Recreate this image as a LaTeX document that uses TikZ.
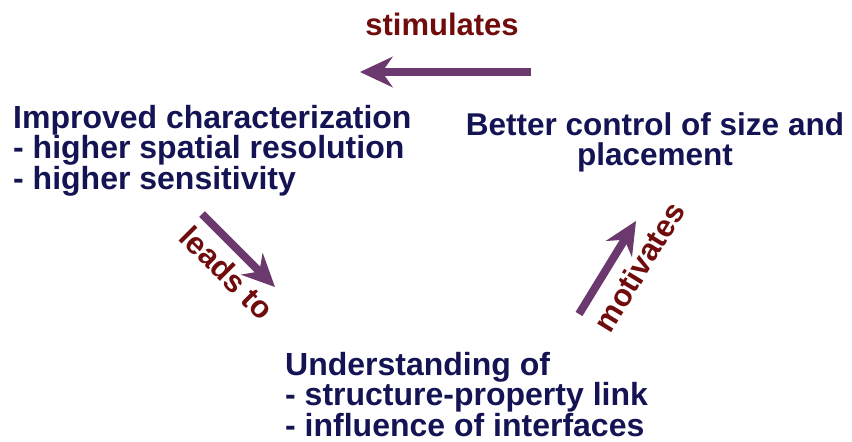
\documentclass[tikz,border=0pt]{standalone}
\usepackage{fontspec}
\setmainfont{Liberation Sans}
\usetikzlibrary{arrows.meta}
\definecolor{navytext}{RGB}{20,20,85}
\definecolor{arrowpurple}{RGB}{107,57,109}
\definecolor{labelred}{RGB}{112,12,12}
\tikzset{
  block/.style={inner sep=0pt, text=navytext, font=\bfseries\fontsize{32}{30.5}\selectfont},
  lbl/.style={inner sep=0pt, text=labelred, font=\bfseries\fontsize{31}{31}\selectfont},
  bigarrow/.style={draw=arrowpurple, line width=8pt,
    -{Stealth[length=33pt,width=31pt,inset=11pt,line width=0pt]}}
}
\begin{document}
\begin{tikzpicture}[x=1pt,y=-1pt]
\useasboundingbox (0,0) rectangle (852,442);
\fill[white] (0,0) rectangle (852,442);

\node[block, anchor=north west, align=left] (char) at (13,105)
  {Improved characterization\\- higher spatial resolution\\- higher sensitivity};
\node[block, anchor=north, align=center, font=\bfseries\fontsize{31.5}{30}\selectfont] (ctrl) at (655,112)
  {Better control of size and\\placement};
\node[block, anchor=north west, align=left] (under) at (285,352)
  {Understanding of\\- structure-property link\\- influence of interfaces};

\coordinate (stimS) at (531,72);
\coordinate (stimE) at (360,72);
\coordinate (leadS) at (202,214);
\coordinate (leadE) at (275,287);
\coordinate (motS) at (579,314);
\coordinate (motE) at (636,221);

\draw[bigarrow] (stimS) -- (stimE);
\draw[bigarrow] (leadS) -- (leadE);
\draw[bigarrow] (motS) -- (motE);

\node[lbl, anchor=base] (stim) at (442,35) {stimulates};
\node[lbl, rotate=-45] (lead) at (227,273) {leads to};
\node[lbl, rotate=58.5] (mot) at (639,267) {motivates};
\end{tikzpicture}
\end{document}
